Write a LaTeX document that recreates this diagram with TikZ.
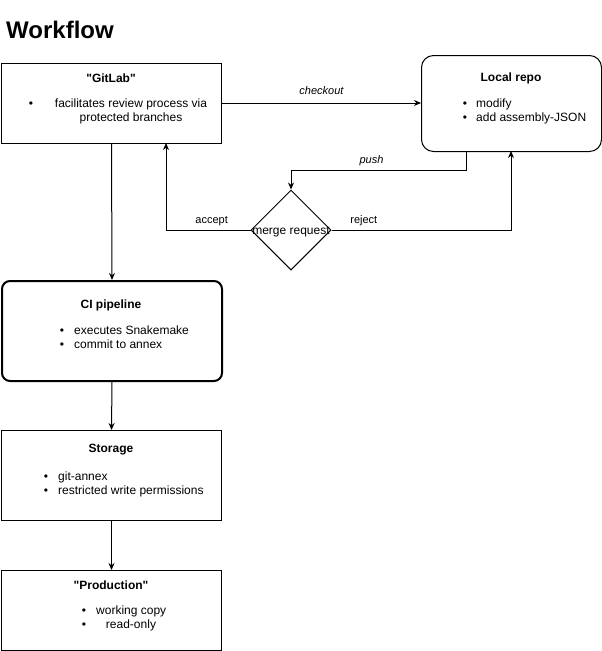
\documentclass[tikz,border=0pt]{standalone}
\usepackage{fontspec}
\setmainfont{Liberation Sans}[Ligatures=TeXOff]
\usetikzlibrary{arrows.meta,shapes.geometric}
\tikzset{
  box/.style={draw=black,line width=1pt,anchor=north west,inner sep=0pt},
  ttl/.style={font=\fontsize{12}{14}\selectfont\bfseries,inner sep=0pt,anchor=center},
  txt/.style={font=\fontsize{12}{14}\selectfont,inner sep=0pt,anchor=base west},
  ctxt/.style={font=\fontsize{12}{14}\selectfont,inner sep=0pt,anchor=base},
  bul/.style={font=\fontsize{12}{14}\selectfont,inner sep=0pt,anchor=base},
  lbl/.style={font=\fontsize{11}{13}\selectfont,inner sep=0pt,anchor=center},
  conn/.style={line width=1pt,-{Stealth[length=7pt,width=6pt]}},
}
\begin{document}
\begin{tikzpicture}[x=1pt,y=-1pt]
\useasboundingbox (0,0) rectangle (602,651);
\node[font=\fontsize{24}{28}\selectfont\bfseries,anchor=base west,inner sep=0pt] (title) at (6,38) {Workflow};

% GitLab
\node[box,minimum width=220pt,minimum height=80pt] (gitlab) at (1,63) {};
\node[ttl] (gitlabT) at (111,78) {"GitLab"};
\node[bul] (gb1) at (31,107) {\textbullet};
\node[ctxt] (gl1) at (131,107) {facilitates review process via};
\node[ctxt] (gl2) at (131,121) {protected branches};

% Local repo
\node[box,rounded corners=12pt,minimum width=180pt,minimum height=96pt] (local) at (421,55) {};
\node[ttl] (localT) at (511,78) {Local repo};
\node[bul] (lb1) at (465,107) {\textbullet};
\node[txt] (l1) at (476,107) {modify};
\node[bul] (lb2) at (465,121) {\textbullet};
\node[txt] (l2) at (476,121) {add assembly-JSON};

% Merge request
\node[draw=black,line width=1pt,diamond,minimum width=80pt,minimum height=80pt,inner sep=0pt,aspect=1] (merge) at (291,230) {};
\node[font=\fontsize{12}{14}\selectfont,inner sep=0pt] (mergeT) at (291,232) {merge request};

% CI pipeline
\node[box,line width=2pt,rounded corners=8pt,minimum width=220pt,minimum height=100pt] (ci) at (1,280) {};
\node[ttl] (ciT) at (111,305) {CI pipeline};
\node[bul] (cb1) at (62,334) {\textbullet};
\node[txt] (c1) at (74,334) {executes Snakemake};
\node[bul] (cb2) at (62,348) {\textbullet};
\node[txt] (c2) at (74,348) {commit to annex};

% Storage
\node[box,minimum width=220pt,minimum height=90pt] (storage) at (1,430) {};
\node[ttl] (storageT) at (111,450) {Storage};
\node[bul] (sb1) at (46,480) {\textbullet};
\node[txt] (s1) at (58,480) {git-annex};
\node[bul] (sb2) at (46,494) {\textbullet};
\node[txt] (s2) at (58,494) {restricted write permissions};

% Production
\node[box,minimum width=220pt,minimum height=80pt] (prod) at (1,570) {};
\node[ttl] (prodT) at (111,585) {"Production"};
\node[bul] (pb1) at (84,614) {\textbullet};
\node[txt] (p1) at (96,614) {working copy};
\node[bul] (pb2) at (84,628) {\textbullet};
\node[ctxt] (p2) at (131,628) {read-only};

% connectors
\draw[conn] (gitlab.east |- 0,103) -- (local.west |- 0,103) node[lbl,midway,yshift=12pt,font=\fontsize{11}{13}\selectfont\itshape] (checkoutL) {checkout};
\draw[conn] (466,151) |- (291,170) node[lbl,pos=0.77,yshift=9pt,font=\fontsize{11}{13}\selectfont\itshape] (pushL) {push} -- (merge.north);
\draw[conn] (merge.west) -| (166,143) node[lbl,pos=0.23,yshift=9pt] (acceptL) {accept};
\draw[conn] (merge.east) -| (511,151) node[lbl,pos=0.09,yshift=9pt] (rejectL) {reject};
\draw[conn] (gitlab.south) -- (ci.north);
\draw[conn] (ci.south) -- (storage.north);
\draw[conn] (storage.south) -- (prod.north);
\end{tikzpicture}
\end{document}
